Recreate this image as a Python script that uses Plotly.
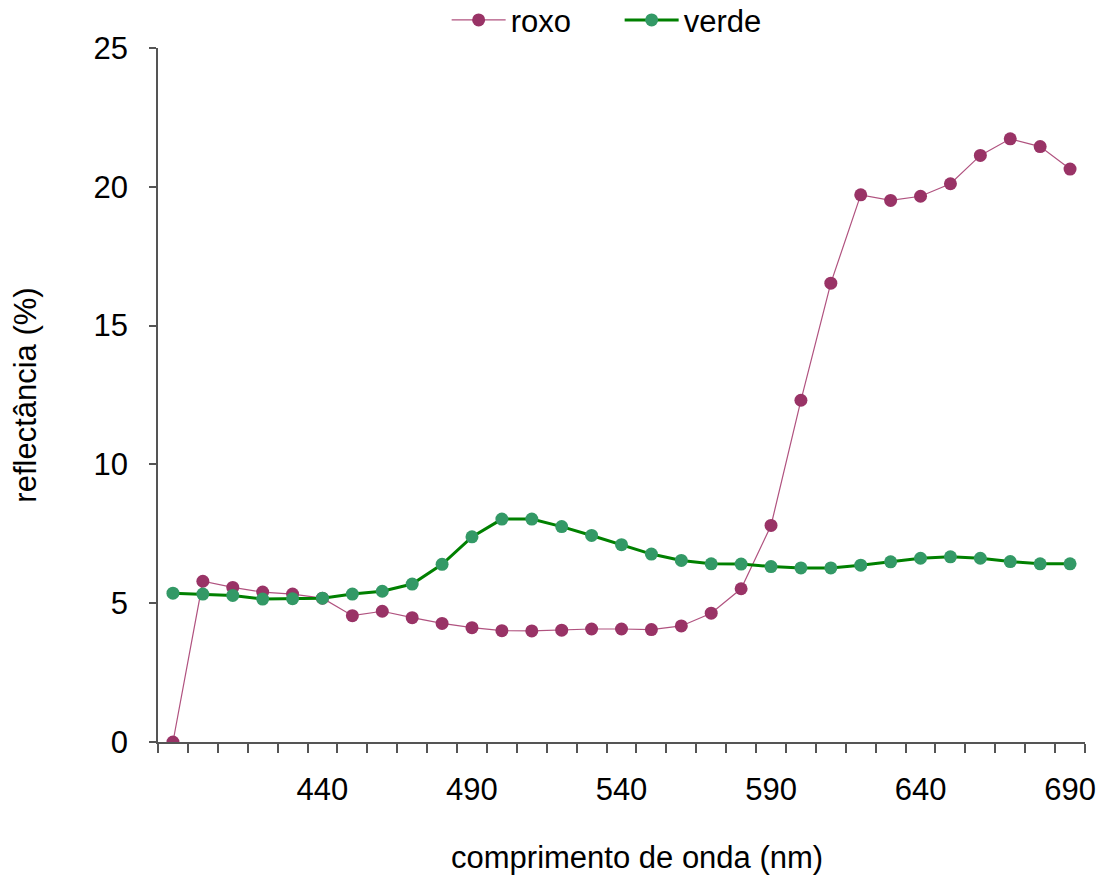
import plotly.graph_objects as go

wavelength = [390, 400, 410, 420, 430, 440, 450, 460, 470, 480, 490, 500, 510, 520, 530, 540,
              550, 560, 570, 580, 590, 600, 610, 620, 630, 640, 650, 660, 670, 680, 690]

roxo = [0.0, 5.79, 5.57, 5.40, 5.33, 5.18, 4.55, 4.71, 4.48, 4.27, 4.12, 4.01, 4.00, 4.03, 4.07, 4.07,
        4.05, 4.18, 4.64, 5.52, 7.80, 12.31, 16.53, 19.71, 19.51, 19.66, 20.11, 21.13, 21.73, 21.45, 20.64]

verde = [5.36, 5.33, 5.28, 5.15, 5.16, 5.18, 5.33, 5.43, 5.69, 6.40, 7.39, 8.03, 8.03, 7.76, 7.44, 7.11,
         6.77, 6.54, 6.42, 6.41, 6.32, 6.27, 6.27, 6.37, 6.49, 6.62, 6.67, 6.62, 6.50, 6.42, 6.42]

x_tick_labels = [440, 490, 540, 590, 640, 690]
y_tick_labels = [0, 5, 10, 15, 20, 25]

x_title = "comprimento de onda (nm)"
y_title = "reflectância (%)"

FONT = "Liberation Sans, Arial, sans-serif"
FS = 31

fig = go.Figure()
fig.add_trace(go.Scatter(
    x=wavelength, y=roxo, name="roxo", mode="lines+markers",
    line=dict(color="#B0527F", width=1.2),
    marker=dict(color="#993366", size=13),
))
fig.add_trace(go.Scatter(
    x=wavelength, y=verde, name="verde", mode="lines+markers",
    line=dict(color="#008000", width=3),
    marker=dict(color="#339966", size=13),
))

fig.add_annotation(text=x_title, xref="paper", yref="paper", x=0.517, y=-0.167,
                   xanchor="center", yanchor="middle", showarrow=False,
                   font=dict(size=FS, family=FONT, color="black"))

fig.update_layout(
    width=1104, height=880,
    margin=dict(l=158, r=19, t=48, b=138, autoexpand=False),
    paper_bgcolor="white", plot_bgcolor="white",
    font=dict(family=FONT, size=FS, color="black"),
    showlegend=True,
    legend=dict(orientation="h", x=0.498, xanchor="center", y=1.04, yanchor="middle",
                font=dict(size=FS), bgcolor="rgba(0,0,0,0)",
                itemwidth=54, entrywidth=104, entrywidthmode="pixels"),
    xaxis=dict(
        range=[385, 695], showgrid=False, zeroline=False,
        showline=True, linecolor="#555555", linewidth=1.5,
        tickmode="array", tickvals=x_tick_labels, ticktext=[str(v) for v in x_tick_labels],
        ticks="", ticklabelstandoff=19,
        tickfont=dict(size=FS),
        minor=dict(tickmode="linear", tick0=385, dtick=10, ticks="outside", ticklen=9,
                   tickcolor="#555555", tickwidth=1.5, showgrid=False),
    ),
    yaxis=dict(
        range=[0, 25], showgrid=False, zeroline=False,
        showline=True, linecolor="#555555", linewidth=1.5,
        tickmode="array", tickvals=y_tick_labels,
        ticks="outside", ticklen=7, tickcolor="#555555", tickwidth=1.5,
        ticklabelstandoff=15,
        tickfont=dict(size=FS),
        title=dict(text=y_title, font=dict(size=FS), standoff=48),
    ),
)

fig.write_html("out.html")
